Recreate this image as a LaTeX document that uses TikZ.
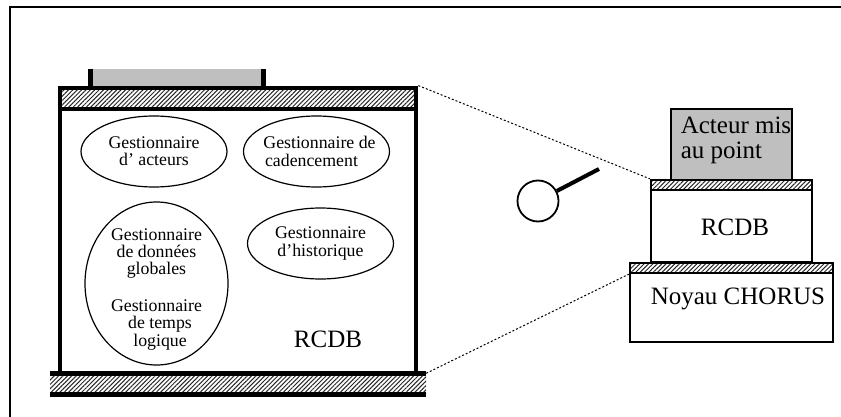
\documentclass[tikz,border=0pt]{standalone}
\usepackage{fontspec}
\setmainfont{Liberation Serif}
\usepackage{xcolor}
\usetikzlibrary{shapes,arrows,patterns.meta}
\definecolor{actorgray}{HTML}{BFBFBF}
\newcommand{\smalltxt}{\fontsize{17.8}{17.2}\selectfont}
\newcommand{\bigtxt}{\fontsize{25}{25}\selectfont}
\tikzstyle{hatch} = [pattern={Lines[angle=45,distance=3.1pt,line width=1pt]},pattern color=black!85]
\tikzstyle{heavybox} = [rectangle,inner sep=0pt,line width=4.8pt,draw=black,minimum width=356pt]
\tikzstyle{thinbox} = [rectangle,inner sep=0pt,line width=2.4pt,draw=black]
\tikzstyle{manager} = [ellipse,inner sep=-15pt,draw=black,line width=1.2pt,minimum width=146pt,minimum height=71pt,align=center,font=\smalltxt]
\tikzstyle{biglabel} = [inner sep=0pt,font=\bigtxt,align=left]
\tikzstyle{zoomline} = [line width=1pt,dash pattern=on 2pt off 2pt]

\begin{document}
\begin{tikzpicture}[x=1pt,y=-1pt]
\useasboundingbox (0,0) rectangle (841,417);
\coordinate (frametopright) at (841,7);
\coordinate (framecorner) at (10,7);
\coordinate (framebottom) at (10,417);
\draw [line width=2.4pt] (frametopright) -- (framecorner) -- (framebottom);

\node (mainbox) [heavybox,minimum height=285pt] at (238,230.5) {};
\node (topstrip) [heavybox,hatch,minimum height=21pt,above of=mainbox,node distance=132pt] {};
\node (tab) [rectangle,inner sep=0pt,fill=actorgray,minimum width=173pt,minimum height=17pt,above of=topstrip,node distance=21pt,xshift=-61pt] {};
\node (basestrip) [rectangle,inner sep=0pt,hatch,minimum width=376pt,minimum height=21pt,below of=mainbox,node distance=153.5pt] {};

\node (actors) [manager] at (154,151.5) {Gestionnaire\\d’ acteurs};
\node (clock) [manager,right of=actors,node distance=162.5pt] {\hspace*{6pt}Gestionnaire de\\cadencement\hspace*{10pt}};
\node (globals) [manager,minimum width=143pt,minimum height=163pt,below of=actors,node distance=132pt,xshift=2.5pt] {\rule{0pt}{23pt}Gestionnaire\\de données\\globales\\[20pt]Gestionnaire\\\hspace*{7pt}de temps\\\hspace*{7pt}logique};
\node (history) [manager,below of=clock,node distance=92pt,xshift=4pt] {Gestionnaire\\d’historique};
\node (rcdbmain) [biglabel,below of=history,node distance=95.5pt,xshift=7.5pt] {RCDB};

\node (rcdbbox) [thinbox,minimum width=161pt,minimum height=72pt] at (731.5,226) {};
\node (rcdbstrip) [thinbox,hatch,minimum width=161pt,minimum height=10pt,above of=rcdbbox,node distance=41pt] {};
\node (actorbox) [thinbox,fill=actorgray,minimum width=121pt,minimum height=71pt,above of=rcdbstrip,node distance=40.5pt] {};
\node (corestrip) [thinbox,hatch,minimum width=203pt,minimum height=10pt,below of=rcdbbox,node distance=42pt] {};
\node (corebox) [thinbox,minimum width=203pt,minimum height=69pt,below of=corestrip,node distance=39.5pt] {};
\node (actorlabel) [biglabel,above of=actorbox,node distance=4.5pt,xshift=4.5pt] {Acteur mis\\au point};
\node (rcdblabel) [biglabel,above of=rcdbbox,node distance=0pt,xshift=3.5pt,yshift=-1pt] {RCDB};
\node (corelabel) [biglabel,above of=corebox,node distance=9pt,xshift=6.5pt] {Noyau CHORUS};

\node (lens) [circle,inner sep=0pt,draw=black,line width=1.8pt,minimum size=41pt] at (538,201) {};
\coordinate (handletip) at (599,169);

\draw [line width=5pt] (tab.north west) -- (tab.south west);
\draw [line width=5pt] (tab.north east) -- (tab.south east);
\draw [line width=5pt] (basestrip.north west) -- (basestrip.north east);
\draw [line width=5pt] (basestrip.south west) -- (basestrip.south east);
\draw [line width=4pt] (lens.28) -- (handletip);
\draw [zoomline] (mainbox.north east) -- (rcdbstrip.north west);
\draw [zoomline] (basestrip.north east) -- (corestrip.south west);
\end{tikzpicture}
\end{document}
